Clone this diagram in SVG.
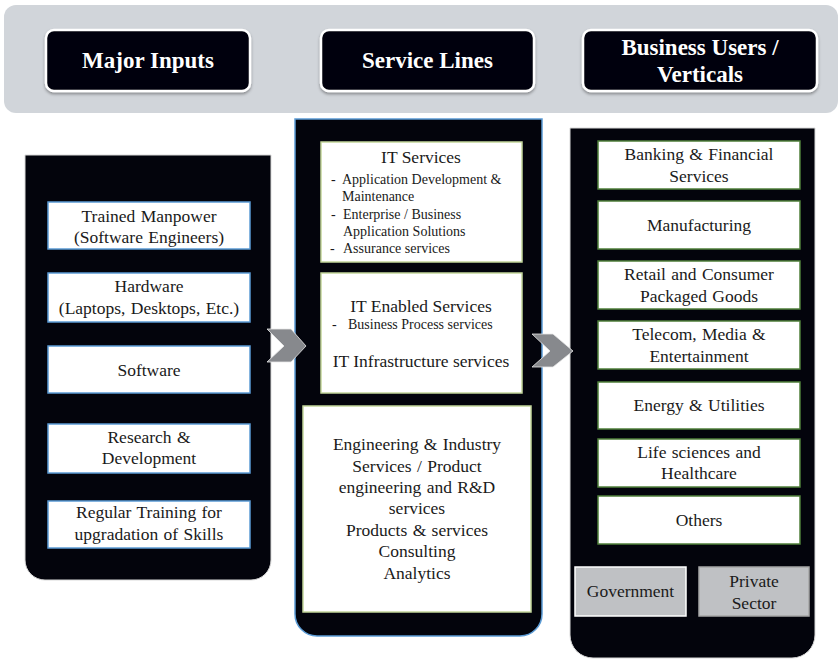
<svg xmlns="http://www.w3.org/2000/svg" width="840" height="659" viewBox="0 0 840 659">
  <defs>
    <filter id="shadow" x="-10%" y="-10%" width="120%" height="130%">
      <feDropShadow dx="0" dy="2" stdDeviation="1.5" flood-color="#000" flood-opacity="0.35"/>
    </filter>
    <style>
      text { font-family: 'Liberation Serif', 'DejaVu Serif', serif; }
      .hdr { fill: #03040c; stroke: #ffffff; stroke-width: 2.5; }
      .hdrtxt { font-weight: bold; font-size: 23px; fill: #ffffff; text-anchor: middle; }
      .panel { fill: #03040c; }
      .inbox { fill: #ffffff; stroke: #5b9bd5; stroke-width: 1.5; }
      .svbox { fill: #ffffff; stroke: #c3d69b; stroke-width: 1.5; }
      .vtbox { fill: #ffffff; stroke: #4f7f3a; stroke-width: 1.5; }
      .sect { fill: #bfc1c4; stroke-width: 1.5; }
      .t { font-size: 17.5px; fill: #1a1a1a; text-anchor: middle; word-spacing: 1px; }
      .tl { font-size: 17.5px; fill: #1a1a1a; text-anchor: middle; }
      .ts { font-size: 14px; fill: #1a1a1a; }
      .chev { fill: #87898d; stroke: #e8e8e8; stroke-width: 0.8; }
    </style>
  </defs>

  <!-- header band -->
  <rect x="4" y="5" width="834" height="108" rx="12" fill="#d1d5da"/>

  <g font-family="'Liberation Serif', 'DejaVu Serif', serif">
  <g id="hdr-inputs">
    <rect class="hdr" x="46" y="30" width="204" height="61" rx="8" filter="url(#shadow)"/>
    <text class="hdrtxt" x="148" y="68">Major Inputs</text>
  </g>
  <g id="hdr-services">
    <rect class="hdr" x="321" y="30" width="213" height="61" rx="8" filter="url(#shadow)"/>
    <text class="hdrtxt" x="427.5" y="68">Service Lines</text>
  </g>
  <g id="hdr-verticals">
    <rect class="hdr" x="583" y="30" width="234" height="61" rx="8" filter="url(#shadow)"/>
    <text class="hdrtxt" x="700" y="55">Business Users /</text>
    <text class="hdrtxt" x="700" y="82">Verticals</text>
  </g>

  <!-- Major Inputs column -->
  <g id="inputs">
    <path class="panel" d="M25,155 H271 V560 A20,20 0 0 1 251,580 H45 A20,20 0 0 1 25,560 Z" stroke="#d9d9d9" stroke-width="1"/>
    <g id="in-manpower">
      <rect class="inbox" x="48" y="202" width="202" height="47"/>
      <text class="t" x="149" y="222">Trained Manpower</text>
      <text class="t" x="149" y="243">(Software Engineers)</text>
    </g>
    <g id="in-hardware">
      <rect class="inbox" x="48" y="273" width="202" height="49"/>
      <text class="t" x="149" y="292">Hardware</text>
      <text class="t" x="149" y="314">(Laptops, Desktops, Etc.)</text>
    </g>
    <g id="in-software">
      <rect class="inbox" x="48" y="346" width="202" height="47"/>
      <text class="t" x="149" y="376">Software</text>
    </g>
    <g id="in-rnd">
      <rect class="inbox" x="48" y="424" width="202" height="49"/>
      <text class="t" x="149" y="443">Research &amp;</text>
      <text class="t" x="149" y="464">Development</text>
    </g>
    <g id="in-training">
      <rect class="inbox" x="48" y="501" width="202" height="47"/>
      <text class="t" x="149" y="518">Regular Training for</text>
      <text class="t" x="149" y="540">upgradation of Skills</text>
    </g>
  </g>

  <!-- Service Lines column -->
  <g id="services">
    <path class="panel" d="M295,119 H542 V614 A22,22 0 0 1 520,636 H317 A22,22 0 0 1 295,614 Z" stroke="#5b9bd5" stroke-width="1.5"/>
    <g id="sv-it">
      <rect class="svbox" x="321" y="142" width="201" height="120"/>
      <text class="tl" x="421" y="163">IT Services</text>
      <text class="ts" x="331" y="184">-</text>
      <text class="ts" x="342" y="184">Application Development &amp;</text>
      <text class="ts" x="342" y="201">Maintenance</text>
      <text class="ts" x="331" y="219">-</text>
      <text class="ts" x="343" y="219">Enterprise / Business</text>
      <text class="ts" x="343" y="236">Application Solutions</text>
      <text class="ts" x="330" y="253">-</text>
      <text class="ts" x="343" y="253">Assurance services</text>
    </g>
    <g id="sv-ites">
      <rect class="svbox" x="321" y="273" width="201" height="120"/>
      <text class="tl" x="421" y="312">IT Enabled Services</text>
      <text class="ts" x="332" y="329">-</text>
      <text class="ts" x="348" y="329">Business Process services</text>
      <text class="tl" x="421" y="367">IT Infrastructure  services</text>
    </g>
    <g id="sv-eng">
      <rect class="svbox" x="303" y="406" width="228" height="206"/>
      <text class="t" x="417" y="450">Engineering &amp; Industry</text>
      <text class="t" x="417" y="472">Services / Product</text>
      <text class="t" x="417" y="493">engineering and R&amp;D</text>
      <text class="t" x="417" y="514">services</text>
      <text class="t" x="417" y="536">Products &amp; services</text>
      <text class="t" x="417" y="557">Consulting</text>
      <text class="t" x="417" y="579">Analytics</text>
    </g>
  </g>

  <!-- Business Users / Verticals column -->
  <g id="verticals">
    <path class="panel" d="M570,128 H815 V635 A23,23 0 0 1 792,658 H593 A23,23 0 0 1 570,635 Z" stroke="#d9d9d9" stroke-width="1"/>
    <g id="vt-banking">
      <rect class="vtbox" x="598" y="141" width="202" height="48"/>
      <text class="t" x="699" y="160">Banking &amp; Financial</text>
      <text class="t" x="699" y="182">Services</text>
    </g>
    <g id="vt-manufacturing">
      <rect class="vtbox" x="598" y="201" width="202" height="48"/>
      <text class="t" x="699" y="231">Manufacturing</text>
    </g>
    <g id="vt-retail">
      <rect class="vtbox" x="598" y="261" width="202" height="48"/>
      <text class="t" x="699" y="280">Retail and Consumer</text>
      <text class="t" x="699" y="302">Packaged Goods</text>
    </g>
    <g id="vt-telecom">
      <rect class="vtbox" x="598" y="321" width="202" height="48"/>
      <text class="t" x="699" y="340">Telecom, Media &amp;</text>
      <text class="t" x="699" y="362">Entertainment</text>
    </g>
    <g id="vt-energy">
      <rect class="vtbox" x="598" y="382" width="202" height="47"/>
      <text class="t" x="699" y="411">Energy &amp; Utilities</text>
    </g>
    <g id="vt-life">
      <rect class="vtbox" x="598" y="439" width="202" height="48"/>
      <text class="t" x="699" y="458">Life sciences and</text>
      <text class="t" x="699" y="479">Healthcare</text>
    </g>
    <g id="vt-others">
      <rect class="vtbox" x="598" y="496" width="202" height="48"/>
      <text class="t" x="699" y="526">Others</text>
    </g>
    <g id="vt-government">
      <rect class="sect" x="575" y="567" width="111" height="49" stroke="#ffffff"/>
      <text class="t" x="630.5" y="597">Government</text>
    </g>
    <g id="vt-private">
      <rect class="sect" x="699" y="567" width="110" height="49" stroke="#a6a6a6"/>
      <text class="t" x="754" y="587">Private</text>
      <text class="t" x="754" y="609">Sector</text>
    </g>
  </g>

  <!-- flow chevrons between columns -->
  <g id="connectors">
    <polygon class="chev" points="267,329 291,329 306,346 291,362 267,362 284,346"/>
    <polygon class="chev" points="532,334 553,334 573,351 553,367 532,367 550,351"/>
  </g>
  </g>
</svg>
